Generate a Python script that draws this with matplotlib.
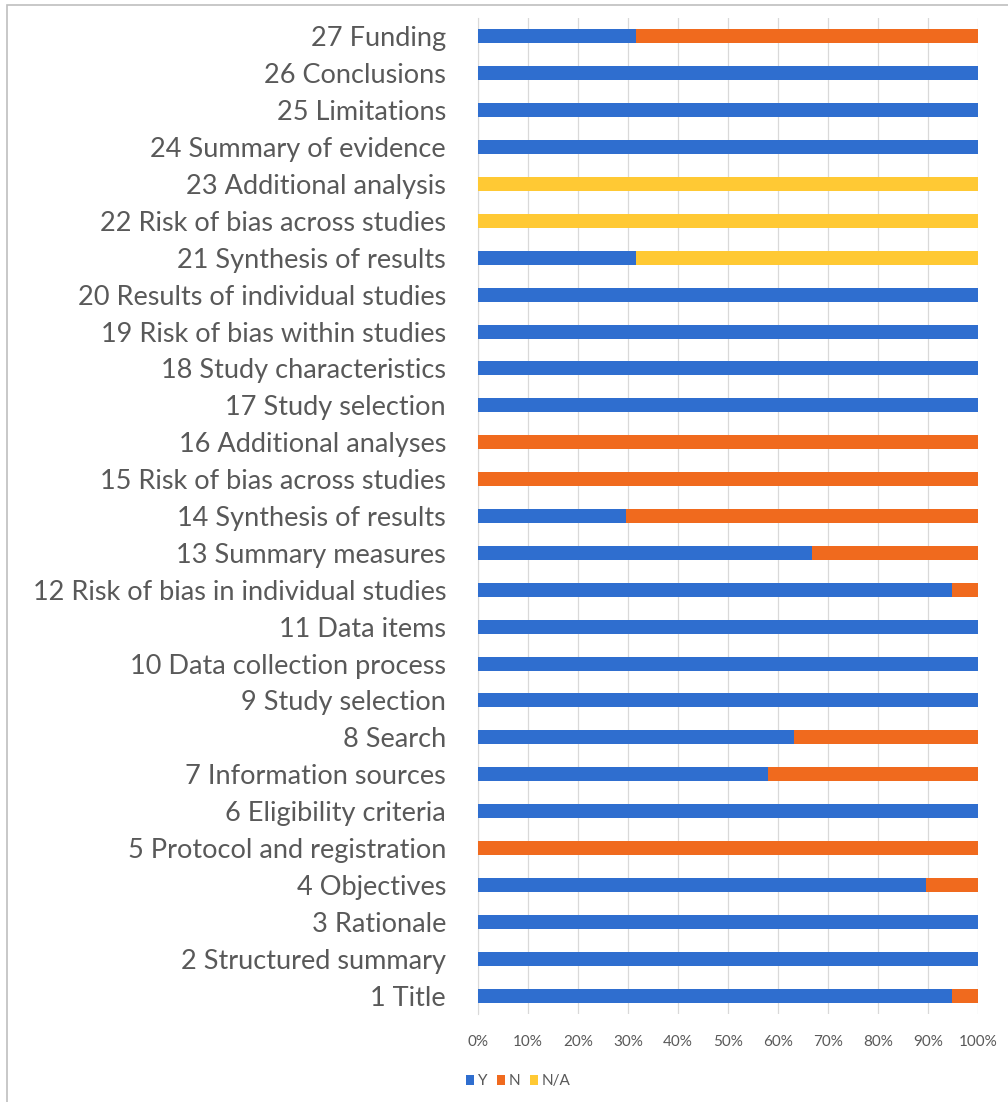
import numpy as np
import matplotlib.pyplot as plt
from matplotlib.patches import Rectangle

# PRISMA items, bottom to top
items = [
    "1 Title", "2 Structured summary", "3 Rationale", "4 Objectives",
    "5 Protocol and registration", "6 Eligibility criteria", "7 Information sources",
    "8 Search", "9 Study selection", "10 Data collection process", "11 Data items",
    "12 Risk of bias in individual studies", "13 Summary measures",
    "14 Synthesis of results", "15 Risk of bias across studies",
    "16 Additional analyses", "17 Study selection", "18 Study characteristics",
    "19 Risk of bias within studies", "20 Results of individual studies",
    "21 Synthesis of results", "22 Risk of bias across studies",
    "23 Additional analysis", "24 Summary of evidence", "25 Limitations",
    "26 Conclusions", "27 Funding",
]
y_vals = [94.7, 100, 100, 89.5, 0, 100, 57.9, 63.2, 100, 100, 100, 94.7, 66.7,
          29.6, 0, 0, 100, 100, 100, 100, 31.6, 0, 0, 100, 100, 100, 31.6]
n_vals = [5.3, 0, 0, 10.5, 100, 0, 42.1, 36.8, 0, 0, 0, 5.3, 33.3,
          70.4, 100, 100, 0, 0, 0, 0, 0, 0, 0, 0, 0, 0, 68.4]
na_vals = [0, 0, 0, 0, 0, 0, 0, 0, 0, 0, 0, 0, 0,
           0, 0, 0, 0, 0, 0, 0, 68.4, 100, 100, 0, 0, 0, 0]

c_y, c_n, c_na = "#2F6ECF", "#F06A1E", "#FFC934"
grey = "#595959"

fig = plt.figure(figsize=(10.08, 11.02), dpi=100)
ax = fig.add_axes([478 / 1008, 1 - 1014 / 1102, 500 / 1008, 996 / 1102])

pos = np.arange(len(items))
y_arr = np.array(y_vals)
n_arr = np.array(n_vals)
na_arr = np.array(na_vals)
h = 0.38
ax.barh(pos, y_arr, height=h, color=c_y, label="Y", zorder=3)
ax.barh(pos, n_arr, left=y_arr, height=h, color=c_n, label="N", zorder=3)
ax.barh(pos, na_arr, left=y_arr + n_arr, height=h, color=c_na, label="N/A", zorder=3)

ax.set_xlim(0, 100)
ax.set_ylim(-0.5, len(items) - 0.5)
ax.set_xticks(np.arange(0, 101, 10))
ax.set_xticklabels([f"{t}%" for t in range(0, 101, 10)], fontsize=11,
                   color=grey, family="Lato")
ax.set_yticks(pos)
ax.set_yticklabels(items, fontsize=19.5, color=grey, family="Lato",
                   va="center_baseline")
ax.tick_params(axis="both", length=0)
ax.tick_params(axis="x", pad=15)
ax.tick_params(axis="y", pad=23)
ax.grid(axis="x", color="#D9D9D9", linewidth=0.9, zorder=0)
for s in ["top", "right", "bottom"]:
    ax.spines[s].set_visible(False)
ax.spines["left"].set_color("#D9D9D9")

leg = fig.legend(loc="lower left", bbox_to_anchor=(452 / 1008, 1 - 1102 / 1102),
                 ncol=3, frameon=False, handlelength=0.55,
                 handleheight=0.6, handletextpad=0.25, columnspacing=0.6,
                 prop={"family": "Lato", "size": 11})
for t in leg.get_texts():
    t.set_color(grey)

# outer chart border
fig.patches.append(Rectangle((7 / 1008, -0.01), 1.0, 1 - 5 / 1102 + 0.01,
                             transform=fig.transFigure, fill=False,
                             edgecolor="#BFBFBF", linewidth=1.2))

fig.savefig("out.png", dpi=100, facecolor="white")
